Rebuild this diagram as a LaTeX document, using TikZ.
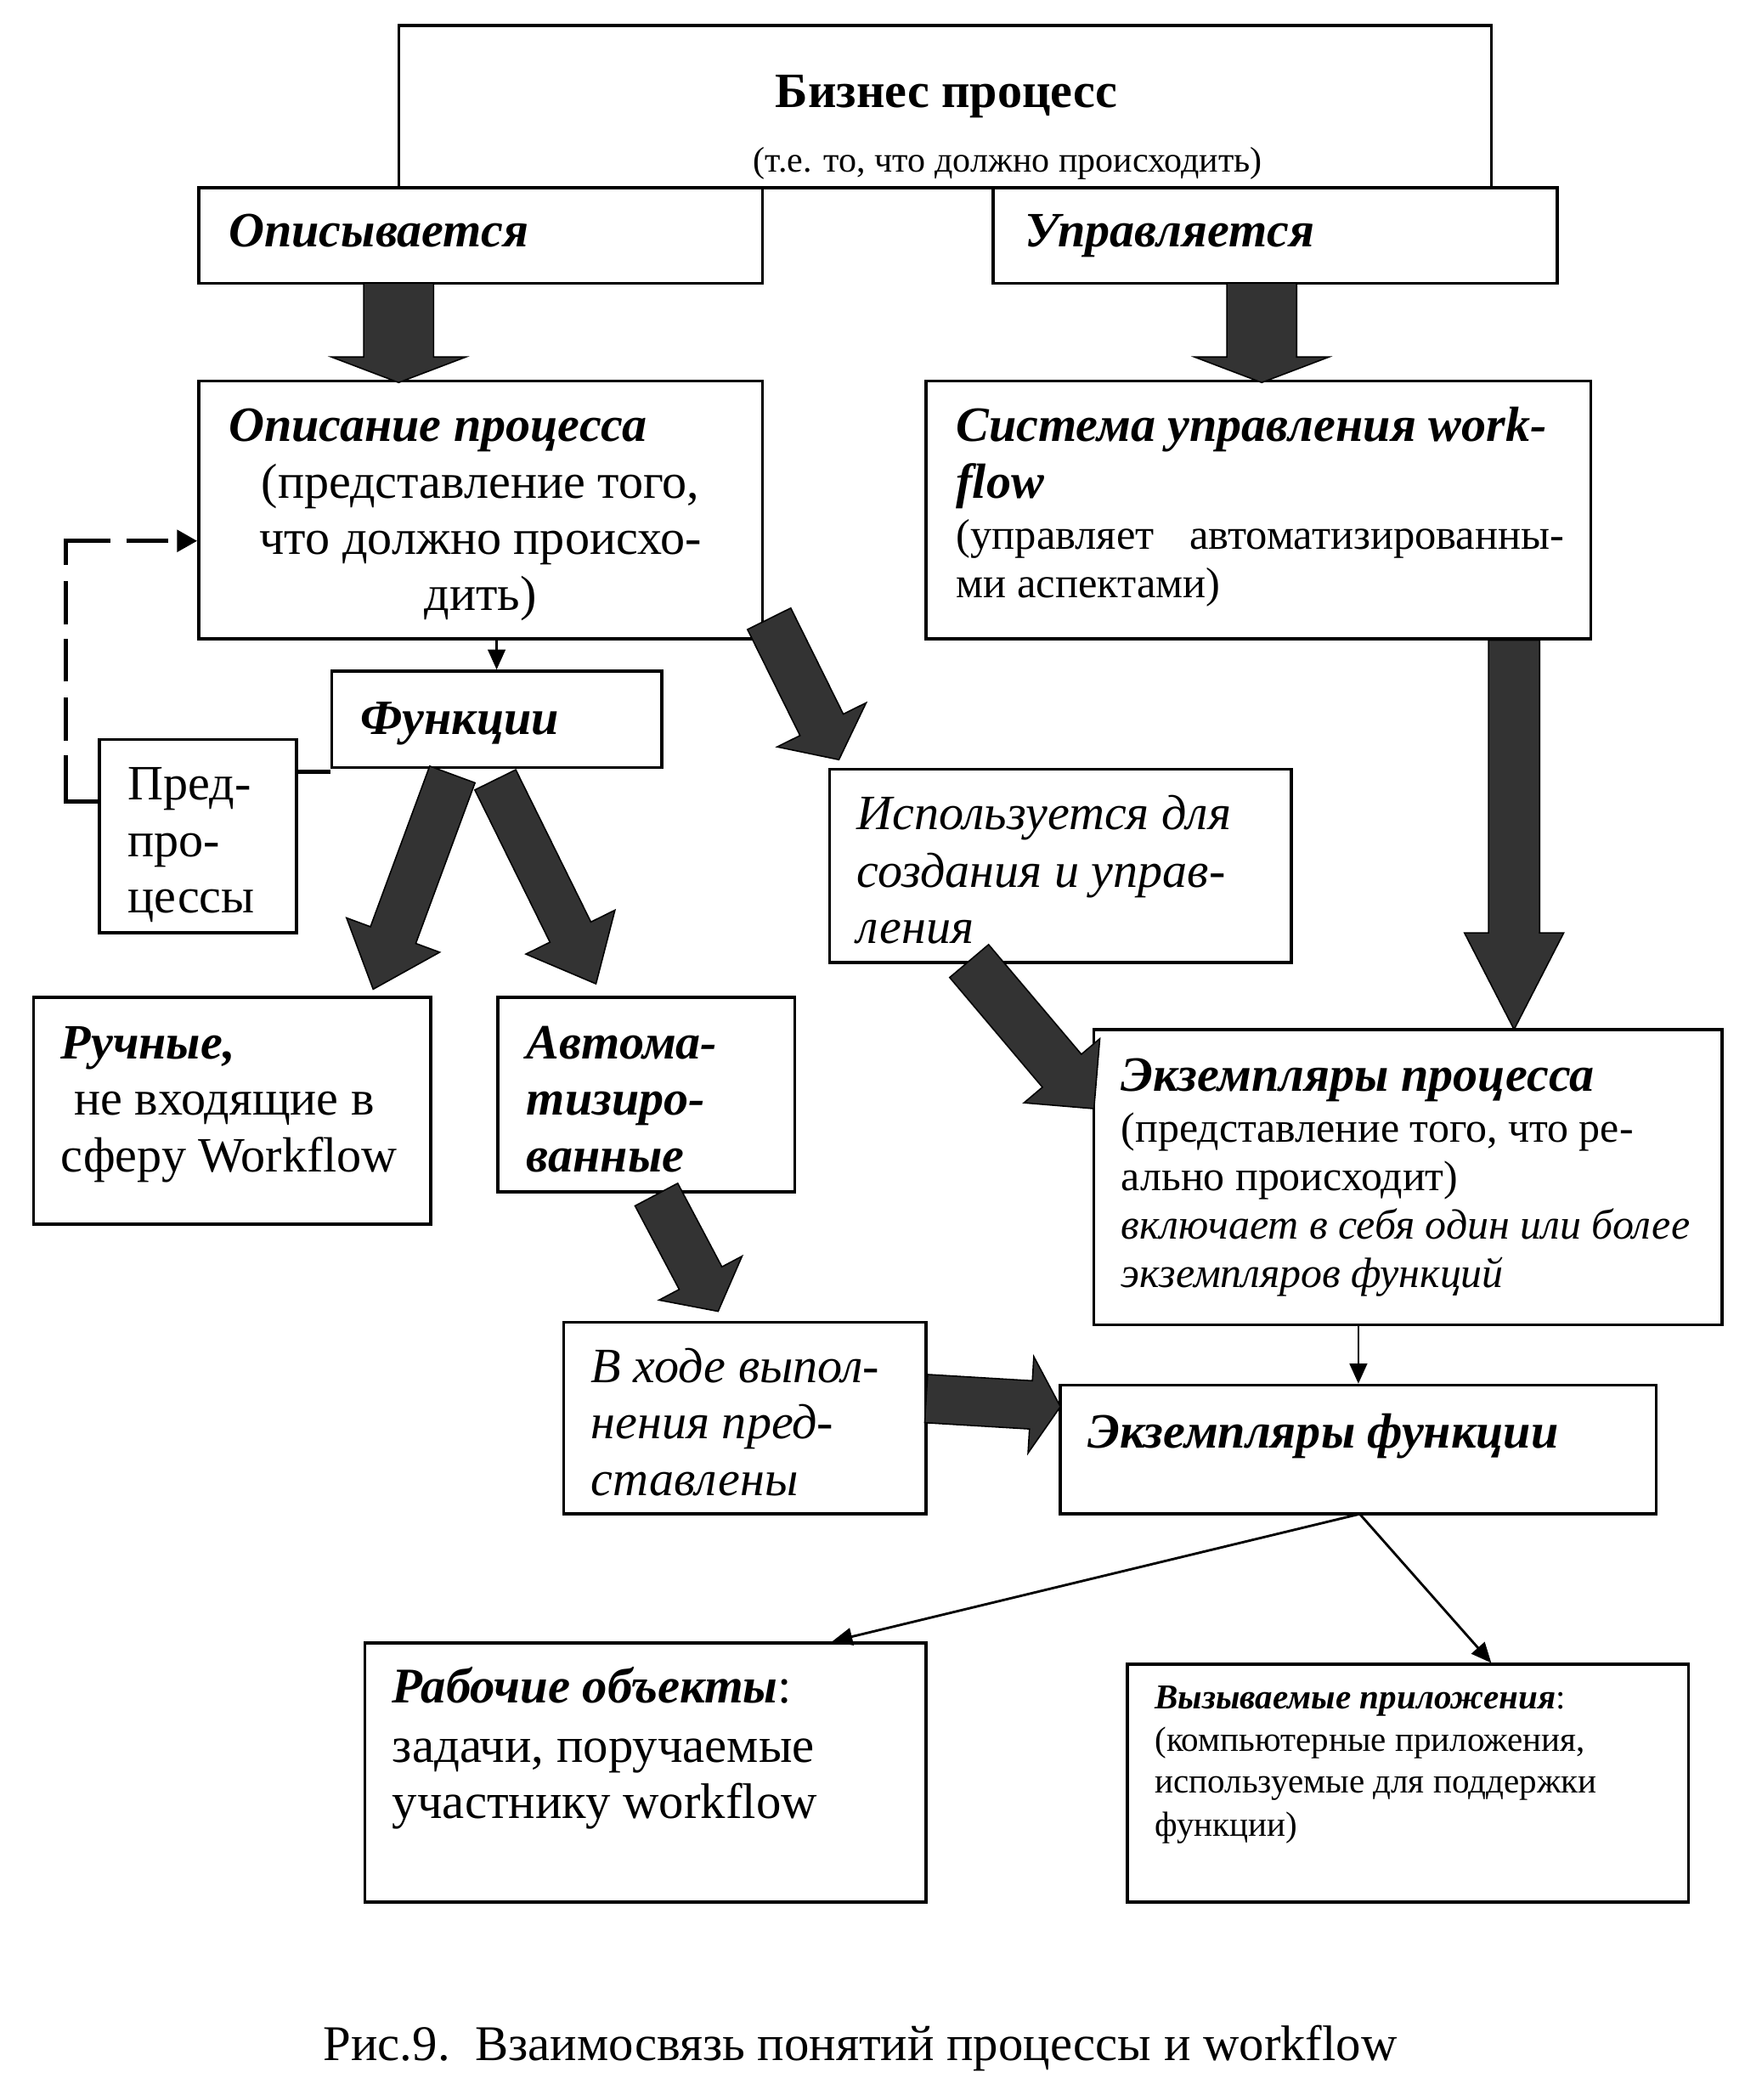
\documentclass[tikz,border=0pt]{standalone}
\usepackage{fontspec}
\setmainfont{Liberation Serif}
\usetikzlibrary{calc,fit,arrows.meta}
\newcommand\fA{\fontsize{18.4}{21}\selectfont}
\newcommand\fR{\fontsize{18.6}{21}\selectfont}
\newcommand\fB{\fontsize{16}{18}\selectfont}
\newcommand\fC{\fontsize{15.8}{18}\selectfont}
\newcommand\fD{\fontsize{13}{15.5}\selectfont}
\newcommand\fE{\fontsize{13.3}{14}\selectfont}
\newcommand\blockarrow[5]{%
  \coordinate (ba-h) at ($(#2)!#5!(#1)$);
  \draw[barrow] ($(#1)!#3!90:(#2)$) -- ($(ba-h)!#3!-90:(#1)$) -- ($(ba-h)!#4!-90:(#1)$) -- (#2)
    -- ($(ba-h)!#4!90:(#1)$) -- ($(ba-h)!#3!90:(#1)$) -- ($(#1)!#3!-90:(#2)$) -- cycle;
}
\tikzset{
  box/.style={draw, line width=1.1pt, fill=white, inner sep=0pt},
  txt/.style={inner sep=0pt, anchor=base west},
  txtc/.style={inner sep=0pt, anchor=base},
  barrow/.style={fill=black!80, draw=black, line width=0.5pt, line join=miter},
  thin/.style={line width=0.9pt, -{Triangle[length=7.5pt,width=6.5pt]}},
}
\begin{document}
\begin{tikzpicture}[x=0.5pt,y=-0.5pt]
\useasboundingbox (0,0) rectangle (1300,1564.6);
\fill[white] (0,0) rectangle (1300,1564.6);

% boxes
\node[box, fit={(297,19)(1111,140)}] (bp) {};
\node[box, fit={(148,140)(568,211)}] (opis) {};
\node[box, fit={(740,140)(1160,211)}] (upr) {};
\node[box, fit={(148,284)(568,476)}] (opproc) {};
\node[box, fit={(690,284)(1185,476)}] (sys) {};
\node[box, fit={(247,500)(493,572)}] (func) {};
\node[box, fit={(74,551)(221,695)}] (pred) {};
\node[box, fit={(618,573)(962,717)}] (isp) {};
\node[box, fit={(25,743)(321,912)}] (ruch) {};
\node[box, fit={(371,743)(592,888)}] (avto) {};
\node[box, fit={(815,767)(1283,987)}] (ekzp) {};
\node[box, fit={(420,985)(690,1128)}] (vhode) {};
\node[box, fit={(790,1032)(1234,1128)}] (ekzf) {};
\node[box, fit={(272,1224)(690,1417)}] (rab) {};
\node[box, fit={(840,1240)(1258,1417)}] (vyz) {};

% texts
\node[txtc] (bpT) at (705,80) {\fA\bfseries Бизнес процесс};
\node[txt] (bpS) at (561,128) {\fE (т.е. то, что должно происходить)};
\node[txt] (opisT) at (170,184) {\fA\bfseries\itshape Описывается};
\node[txt] (uprT) at (763,184) {\fA\bfseries\itshape Управляется};
\node[txt] (opT) at (170,329) {\fA\bfseries\itshape Описание процесса};
\node[txtc] (opL1) at (358,371) {\fA (представление того,};
\node[txtc] (opL2) at (358,413) {\fA что должно происхо-};
\node[txtc] (opL3) at (358,455) {\fA дить)};
\node[txt] (sysT1) at (712,329) {\fA\bfseries\itshape Система управления work-};
\node[txt] (sysT2) at (712,371) {\fA\bfseries\itshape flow};
\node[txt] (sysL1) at (712,409) {\fB\makebox[226.5pt][s]{(управляет\hfill автоматизированны-}};
\node[txt] (sysL2) at (712,445) {\fB ми аспектами)};
\node[txt] (funcT) at (268,547) {\fA\bfseries\itshape Функции};
\node[txt] (predL1) at (95,596) {\fA Пред-};
\node[txt] (predL2) at (95,638) {\fA про-};
\node[txt] (predL3) at (95,680) {\fA цессы};
\node[txt] (ispL1) at (638,618) {\fA\itshape Используется для};
\node[txt] (ispL2) at (638,661) {\fA\itshape создания и управ-};
\node[txt] (ispL3) at (638,703) {\fA\itshape ления};
\node[txt] (ruchT) at (45,789) {\fA\bfseries\itshape Ручные,};
\node[txt] (ruchL1) at (55,831) {\fA не входящие в};
\node[txt] (ruchL2) at (45,873) {\fA сферу Workflow};
\node[txt] (avtoL1) at (392,789) {\fA\bfseries\itshape Автома-};
\node[txt] (avtoL2) at (392,831) {\fA\bfseries\itshape тизиро-};
\node[txt] (avtoL3) at (392,873) {\fA\bfseries\itshape ванные};
\node[txt] (ekzpT) at (835,813) {\fA\bfseries\itshape Экземпляры процесса};
\node[txt] (ekzpL1) at (835,851) {\fC (представление того, что ре-};
\node[txt] (ekzpL2) at (835,887) {\fC ально происходит)};
\node[txt] (ekzpL3) at (835,923) {\fC\itshape включает в себя один или более};
\node[txt] (ekzpL4) at (835,959) {\fC\itshape экземпляров функций};
\node[txt] (vhL1) at (440,1030) {\fA\itshape В ходе выпол-};
\node[txt] (vhL2) at (440,1072) {\fA\itshape нения пред-};
\node[txt] (vhL3) at (440,1114) {\fA\itshape ставлены};
\node[txt] (ekzfT) at (810,1079) {\fA\bfseries\itshape Экземпляры функции};
\node[txt] (rabT) at (292,1269) {\fR{\bfseries\itshape Рабочие объекты}:};
\node[txt] (rabL1) at (292,1313) {\fR задачи, поручаемые};
\node[txt] (rabL2) at (292,1355) {\fR участнику workflow};
\node[txt] (vyzT) at (860,1273) {\fD{\bfseries\itshape Вызываемые приложения}:};
\node[txt] (vyzL1) at (860,1305) {\fD (компьютерные приложения,};
\node[txt] (vyzL2) at (860,1336) {\fD используемые для поддержки};
\node[txt] (vyzL3) at (860,1368) {\fD функции)};
\node[txtc] (cap) at (641,1535) {\fR Рис.9.\ \ Взаимосвязь понятий процессы и workflow};

% thin connectors
\draw[thin] (opproc.south -| 370,0) -- (func.north -| 370,0);
\draw[thin] (ekzp.south -| 1012,0) -- (ekzf.north -| 1012,0);
\coordinate (ef) at (1013,1128);
\draw[thin] (ef) -- (rab.north -| 620,0);
\draw[thin] (ef) -- (vyz.north -| 1111,0);
\draw[line width=1.6pt] (pred.east |- 0,575) -- (func.west |- 0,575);

% dashed feedback
\coordinate (dc1) at (49,597);
\coordinate (dc2) at (49,403);
\draw[line width=1.5pt, line join=miter,
  dash pattern=on 29pt off 5.5pt on 16pt off 6pt on 16pt off 5.5pt on 16pt off 6pt on 25.5pt off 6pt on 15.5pt off 3.5pt on 30pt,
  -{Triangle[length=7.5pt,width=8pt]}]
  (pred.west |- dc1) -- (dc1) -- (dc2) -- (opproc.west |- dc2);

% block arrows
\coordinate (a1s) at (297,211); \coordinate (a1e) at (297,285);
\coordinate (a2s) at (940,211); \coordinate (a2e) at (940,285);
\coordinate (a3s) at (337,577); \coordinate (a3e) at (278,737);
\coordinate (a4s) at (369,581); \coordinate (a4e) at (444,733);
\coordinate (a5s) at (573,461); \coordinate (a5e) at (625,566);
\coordinate (a6s) at (722,716); \coordinate (a6e) at (815,826);
\coordinate (a7s) at (1128,477); \coordinate (a7e) at (1128,767);
\coordinate (a8s) at (489,890); \coordinate (a8e) at (535,977);
\coordinate (a9s) at (690,1042); \coordinate (a9e) at (790,1048);
\blockarrow{a1s}{a1e}{13pt}{25pt}{9.5pt}
\blockarrow{a2s}{a2e}{13pt}{25pt}{9.5pt}
\blockarrow{a3s}{a3e}{9pt}{18.5pt}{21.5pt}
\blockarrow{a4s}{a4e}{8.5pt}{18.5pt}{21.5pt}
\blockarrow{a5s}{a5e}{9pt}{18.5pt}{14.5pt}
\blockarrow{a6s}{a6e}{9.5pt}{18.5pt}{18.5pt}
\blockarrow{a7s}{a7e}{9.5pt}{18.5pt}{36pt}
\blockarrow{a8s}{a8e}{9pt}{17.5pt}{14pt}
\blockarrow{a9s}{a9e}{9pt}{18pt}{11pt}
\end{tikzpicture}
\end{document}
